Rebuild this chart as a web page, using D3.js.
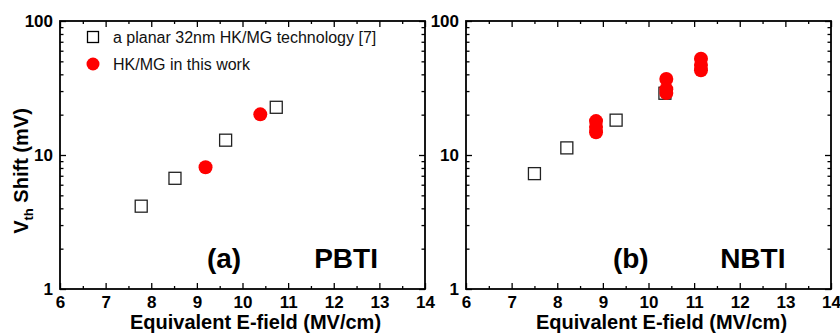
<!DOCTYPE html>
<html>
<head>
<meta charset="utf-8">
<script src="https://cdn.jsdelivr.net/npm/d3@7"></script>
<style>
  body { margin: 0; background: #fff; }
  svg { font-family: "Liberation Sans", Arial, sans-serif; }
  .domain { display: none; }
  .tick line { stroke: #000; stroke-width: 1.3; }
</style>
</head>
<body>
<div id="chart"></div>
<script>
// x = equivalent E-field (MV/cm), y = Vth shift (mV)
var xTicks = [6, 7, 8, 9, 10, 11, 12, 13, 14];
var yTicks = [1, 10, 100];

// panel (a) PBTI
var refAx = [7.78, 8.52, 9.63, 10.74];
var refAy = [4.15, 6.7, 12.9, 22.7];
var workAx = [9.19, 10.39];
var workAy = [8.1, 20.1];

// panel (b) NBTI
var refBx = [7.5, 8.21, 9.29, 10.36];
var refBy = [7.26, 11.3, 18.2, 28.9];
var workBx = [8.85, 8.85, 8.85, 10.39, 10.39, 10.39, 11.15, 11.15, 11.15];
var workBy = [17.9, 16.2, 14.8, 36.9, 31.0, 29.0, 52.3, 47.0, 42.9];

var legendLabels = ["a planar 32nm HK/MG technology [7]", "HK/MG in this work"];

var width = 840, height = 333;
var svg = d3.select("#chart").append("svg")
    .attr("width", width)
    .attr("height", height);

function zip(xs, ys) {
    return xs.map(function(x, i) { return {x: x, y: ys[i]}; });
}

// unlabeled axes: drop their empty texts
function ticks_only(sel) {
    sel.selectAll(".tick text").remove();
    return sel;
}

// labeled axes: bold Arial-like labels
function bold_labels(sel) {
    sel.attr("font-family", null).attr("font-size", null);
    sel.selectAll(".tick text")
        .style("font-family", "'Liberation Sans', Arial, sans-serif")
        .style("font-size", "17px")
        .style("font-weight", "bold")
        .style("fill", "#000");
    return sel;
}

function draw_panel(left, right, refPts, workPts, tag, kind, withLegend)
{
    var top = 21, bottom = 289;
    var w = right - left, h = bottom - top;
    var x = d3.scaleLinear().domain([6, 14]).range([0, w]);
    var y = d3.scaleLog().domain([1, 100]).range([h, 0]);

    var g = svg.append("g").attr("transform", "translate(" + left + "," + top + ")");

    // minor ticks
    var xMinor = d3.range(6.5, 14, 1);
    var yMinor = [];
    [1, 10].forEach(function(d) { for (var k = 2; k <= 9; k++) yMinor.push(d * k); });

    g.append("g").attr("transform", "translate(0," + h + ")")
        .call(d3.axisBottom(x).tickValues(xTicks).tickSize(-6).tickPadding(7).tickFormat(d3.format("d")))
        .call(bold_labels);
    g.append("g").attr("transform", "translate(0," + h + ")")
        .call(d3.axisBottom(x).tickValues(xMinor).tickSize(-3)).call(ticks_only);
    g.append("g")
        .call(d3.axisTop(x).tickValues(xTicks).tickSize(-6)).call(ticks_only);
    g.append("g")
        .call(d3.axisTop(x).tickValues(xMinor).tickSize(-3)).call(ticks_only);

    g.append("g")
        .call(d3.axisLeft(y).tickValues(yTicks).tickSize(-6).tickPadding(7).tickFormat(d3.format("d")))
        .call(bold_labels);
    g.append("g")
        .call(d3.axisLeft(y).tickValues(yMinor).tickSize(-3.5)).call(ticks_only);
    g.append("g").attr("transform", "translate(" + w + ",0)")
        .call(d3.axisRight(y).tickValues(yTicks).tickSize(-6)).call(ticks_only);
    g.append("g").attr("transform", "translate(" + w + ",0)")
        .call(d3.axisRight(y).tickValues(yMinor).tickSize(-3.5)).call(ticks_only);

    g.append("rect")
        .attr("width", w).attr("height", h)
        .attr("fill", "none").attr("stroke", "#000").attr("stroke-width", 1.8);

    var sq = 12;
    g.selectAll(".ref").data(refPts).enter().append("rect")
        .attr("class", "ref")
        .attr("x", function(d) { return x(d.x) - sq / 2; })
        .attr("y", function(d) { return y(d.y) - sq / 2; })
        .attr("width", sq).attr("height", sq)
        .attr("fill", "none").attr("stroke", "#222").attr("stroke-width", 1.3);

    g.selectAll(".work").data(workPts).enter().append("circle")
        .attr("class", "work")
        .attr("cx", function(d) { return x(d.x); })
        .attr("cy", function(d) { return y(d.y); })
        .attr("r", 7)
        .attr("fill", "#ff0000");

    g.append("text")
        .attr("x", x(9.22)).attr("y", 247)
        .style("font-size", "28px").style("font-weight", "bold")
        .text(tag);
    g.append("text")
        .attr("x", x(11.57)).attr("y", 247)
        .style("font-size", "28px").style("font-weight", "bold")
        .text(kind);

    svg.append("text")
        .attr("x", left + w / 2 + 13).attr("y", 329)
        .attr("text-anchor", "middle")
        .style("font-size", "20px").style("font-weight", "bold")
        .text("Equivalent E-field (MV/cm)");

    if (withLegend) {
        var leg = g.selectAll(".legend").data(legendLabels).enter().append("g")
            .attr("class", "legend")
            .attr("transform", function(d, i) { return "translate(33," + (16 + i * 27) + ")"; });
        leg.filter(function(d, i) { return i === 0; }).append("rect")
            .attr("x", -5.5).attr("y", -5.5).attr("width", 11).attr("height", 11)
            .attr("fill", "none").attr("stroke", "#000").attr("stroke-width", 1.3);
        leg.filter(function(d, i) { return i === 1; }).append("circle")
            .attr("r", 6.5).attr("fill", "#ff0000");
        leg.append("text")
            .attr("x", 20)
            .attr("y", 6)
            .style("font-size", "16px").style("fill", "#111")
            .text(function(d) { return d; });
    }
}

draw_panel(60, 425, zip(refAx, refAy), zip(workAx, workAy), "(a)", "PBTI", true);
draw_panel(466, 831, zip(refBx, refBy), zip(workBx, workBy), "(b)", "NBTI", false);

// y axis title
var yt = svg.append("text")
    .attr("transform", "translate(28,171) rotate(-90)")
    .attr("text-anchor", "middle")
    .style("font-size", "20px").style("font-weight", "bold");
yt.append("tspan").text("V");
yt.append("tspan").attr("dy", 5).style("font-size", "13px").text("th");
yt.append("tspan").attr("dy", -5).text(" Shift (mV)");
</script>
</body>
</html>
